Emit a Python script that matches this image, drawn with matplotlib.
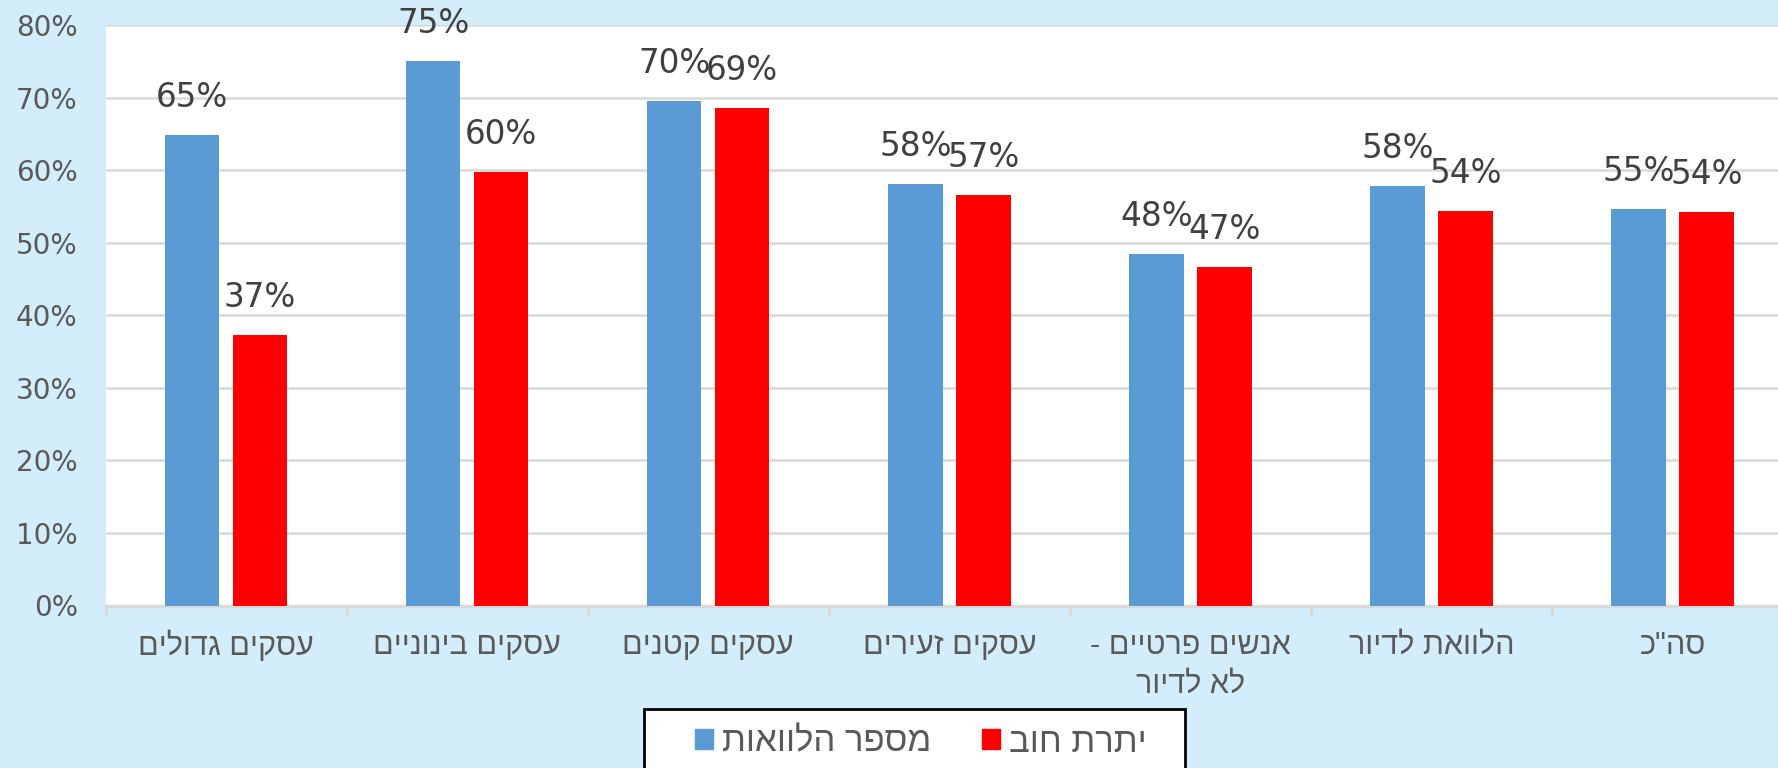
import matplotlib
matplotlib.use("Agg")
import matplotlib.pyplot as plt
import matplotlib.patches as mpatches
import numpy as np

categories = ["עסקים גדולים", "עסקים בינוניים", "עסקים קטנים", "עסקים זעירים",
              "אנשים פרטיים -\nלא לדיור", "הלוואת לדיור", "סה\"כ"]
loans_count = [0.648, 0.750, 0.695, 0.581, 0.484, 0.578, 0.547]
debt_balance = [0.373, 0.597, 0.686, 0.566, 0.466, 0.544, 0.542]
series_names = ["מספר הלוואות", "יתרת חוב"]
yticks = [0, 0.1, 0.2, 0.3, 0.4, 0.5, 0.6, 0.7, 0.8]
ytick_labels = ["0%", "10%", "20%", "30%", "40%", "50%", "60%", "70%", "80%"]


def rtl(s):
    return "\n".join(line[::-1] for line in s.split("\n"))


BG = "#D3EEFA"
BLUE = "#5B9BD5"
RED = "#FF0000"
GRID = "#D9D9D9"
W, H = 1778, 768

fig = plt.figure(figsize=(W / 100, H / 100), dpi=100, facecolor=BG)
ax = fig.add_axes([105.5 / W, 1 - 605.5 / H, 1687.7 / W, (605.5 - 25) / H])
ax.set_facecolor("white")

x = np.arange(len(categories))
w = 0.226
off = 0.141
b1 = ax.bar(x - off, loans_count, w, color=BLUE, zorder=3)
b2 = ax.bar(x + off, debt_balance, w, color=RED, zorder=3)

for bars, vals in ((b1, loans_count), (b2, debt_balance)):
    for rect, v in zip(bars, vals):
        ax.annotate(f"{round(v * 100):.0f}%",
                    (rect.get_x() + rect.get_width() / 2, v),
                    xytext=(0, 27), textcoords="offset points",
                    ha="center", va="center", fontsize=23.5, color="#404040",
                    family="DejaVu Sans", annotation_clip=False, zorder=5)

ax.set_xlim(-0.5, 6.5)
ax.set_ylim(0, 0.8)
ax.set_yticks(yticks)
ax.set_yticklabels(ytick_labels, fontsize=20, color="#595959", family="DejaVu Sans")
ax.tick_params(axis="y", length=0, pad=20)
ax.yaxis.grid(True, color=GRID, linewidth=1.8, zorder=0)
ax.set_axisbelow(True)

ax.set_xticks(x)
ax.set_xticklabels([rtl(c) for c in categories], fontsize=22, color="#595959",
                   family="Liberation Sans", linespacing=1.4)
ax.set_xticks(np.arange(-0.5, 7, 1), minor=True)
ax.tick_params(axis="x", which="major", length=0, pad=18)
ax.tick_params(axis="x", which="minor", length=7, width=2, color=GRID)

for s in ("top", "right", "left"):
    ax.spines[s].set_visible(False)
ax.spines["bottom"].set_color(GRID)
ax.spines["bottom"].set_linewidth(2.5)

# legend frame (extends past the bottom edge, as in the reference)
frame = mpatches.Rectangle((644 / W, -0.1), (1185 - 644) / W, 0.1 + 1 - 709 / H,
                           transform=fig.transFigure, facecolor="white",
                           edgecolor="black", linewidth=2, zorder=1)
fig.add_artist(frame)

handles = [mpatches.Patch(color=BLUE), mpatches.Patch(color=RED)]
leg = fig.legend(handles, [rtl(s) for s in series_names], ncol=2,
                 loc="center left", bbox_to_anchor=(695 / W, 1 - 742 / H),
                 prop={"family": "Liberation Sans", "size": 25},
                 frameon=False,
                 handlelength=0.52, handleheight=0.52, handletextpad=0.26,
                 columnspacing=1.47, borderpad=0, borderaxespad=0)
leg.set_zorder(5)
for t in leg.get_texts():
    t.set_color("#595959")

fig.savefig("out.png", dpi=100, facecolor=BG)
